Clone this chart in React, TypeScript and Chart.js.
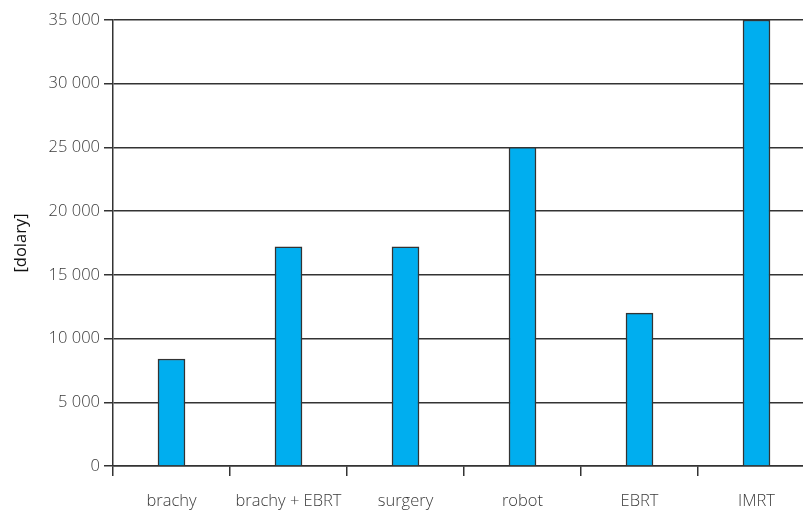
import React, { useEffect, useRef } from "react";
import { Chart, registerables } from "chart.js";

Chart.register(...registerables);

const categories = ["brachy", "brachy + EBRT", "surgery", "robot", "EBRT", "IMRT"];
const costs = [8400, 17200, 17200, 25000, 12000, 35000];
const yMin = 0;
const yMax = 35000;
const yStep = 5000;
const yTitle = "[dolary]";

const fmt = (v: number) => String(v).replace(/\B(?=(\d{3})+(?!\d))/g, " ");

export default function App() {
  const ref = useRef<HTMLCanvasElement>(null);
  useEffect(() => {
    if (!ref.current) return;
    const font = { family: "'Open Sans', 'Noto Sans', sans-serif", size: 16.5, weight: 300 as any };
    const chart = new Chart(ref.current, {
      type: "bar",
      data: {
        labels: categories,
        datasets: [
          {
            data: costs,
            backgroundColor: "#00aeef",
            borderColor: "#333333",
            borderWidth: 1.5,
            barThickness: 27,
          },
        ],
      },
      options: {
        animation: false,
        responsive: false,
        maintainAspectRatio: false,
        layout: { padding: { left: 0, right: 0, top: 20, bottom: 0 } },
        plugins: { legend: { display: false }, tooltip: { enabled: false } },
        scales: {
          x: {
            offset: true,
            grid: {
              offset: true,
              drawOnChartArea: false,
              drawTicks: true,
              tickLength: 10,
              color: "#333333",
              lineWidth: 1.5,
            },
            border: { display: true, color: "#333333", width: 1.5 },
            ticks: { color: "#3a3a3a", font, padding: 15 },
            afterFit: (s: any) => {
              s.height = 45;
            },
          },
          y: {
            min: yMin,
            max: yMax,
            ticks: {
              stepSize: yStep,
              color: "#3a3a3a",
              font,
              padding: 4,
              callback: (v: any) => fmt(Number(v)),
            },
            grid: { color: "#333333", lineWidth: 1.5, tickLength: 9 },
            border: { display: true, color: "#333333", width: 1.5 },
            title: {
              display: true,
              text: yTitle,
              color: "#111111",
              font: { family: "'Open Sans', 'Noto Sans', sans-serif", size: 16.5, weight: 500 as any },
              padding: { top: 11, bottom: 0 },
            },
            afterFit: (s: any) => {
              s.width = 113;
            },
          },
        },
      },
    });
    return () => chart.destroy();
  }, []);
  return (
    <div style={{ position: "fixed", left: 0, top: 0, width: 815, height: 511, background: "#fff" }}>
      <canvas ref={ref} width={815} height={511} style={{ display: "block" }} />
    </div>
  );
}
